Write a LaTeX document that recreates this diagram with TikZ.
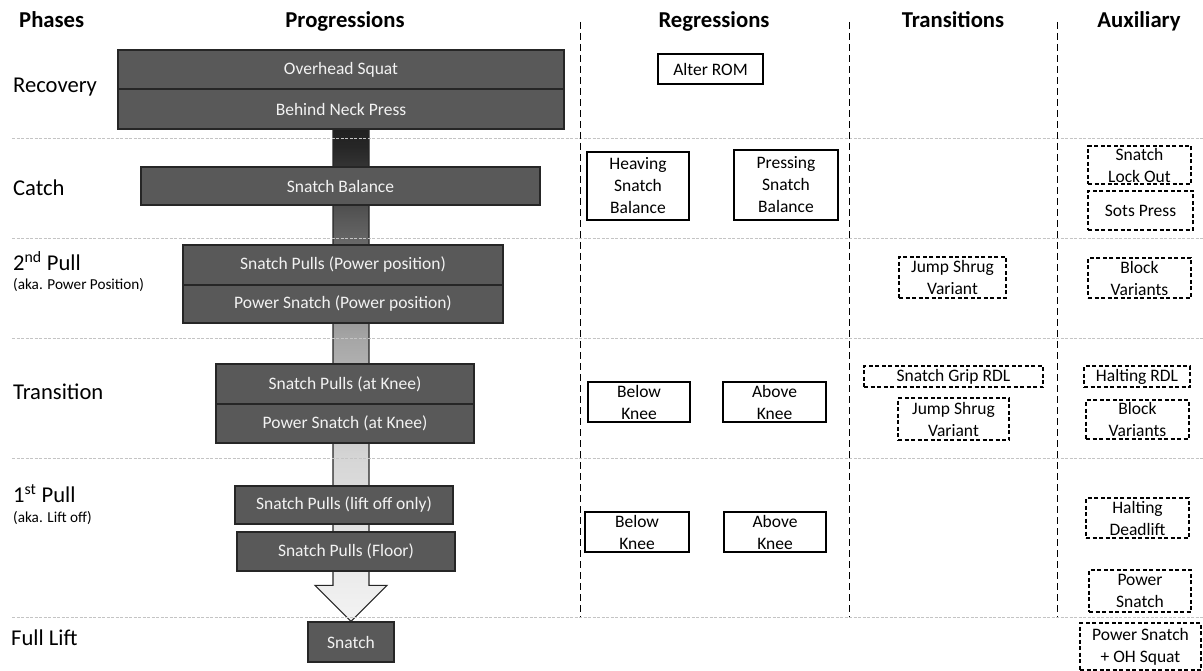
\documentclass[tikz,border=0pt]{standalone}
\usepackage{fontspec}
\setmainfont{Carlito}
\usetikzlibrary{calc,backgrounds}

\definecolor{progfill}{HTML}{595959}
\definecolor{progedge}{HTML}{262626}
\definecolor{progtext}{HTML}{F2F2F2}
\definecolor{sepgray}{HTML}{C4C4C4}
% stops of the grey ramp inside the big downward arrow
\definecolor{sz}{HTML}{202020}
\definecolor{sa}{HTML}{262626}
\definecolor{sb}{HTML}{595959}
\definecolor{sc}{HTML}{A6A6A6}
\definecolor{sd}{HTML}{D6D6D6}
\definecolor{se}{HTML}{F0F0F0}
\definecolor{sf}{HTML}{F2F2F2}
\pgfdeclareverticalshading{stemshade}{100bp}{color(0bp)=(sf); color(25bp)=(sf); color(27bp)=(se); color(41.4bp)=(sd); color(53.5bp)=(sc); color(65.6bp)=(sb); color(73bp)=(sa); color(75bp)=(sz); color(100bp)=(sz)}

\begin{document}
\begin{tikzpicture}[x=1pt,y=-1pt,
  prog/.style={draw=progedge, fill=progfill, text=progtext, line width=1.3pt,
    inner sep=0pt, font=\fontsize{17.5}{20}\selectfont},
  regbox/.style={draw=black, fill=white, line width=1.1pt, inner sep=0pt,
    align=center, font=\fontsize{17.5}{22}\selectfont},
  auxbox/.style={regbox, dash pattern=on 4pt off 2.5pt},
  hdr/.style={font=\fontsize{22.7}{26}\bfseries\selectfont, anchor=base},
  phase/.style={font=\fontsize{22.6}{26}\selectfont, anchor=base west, inner sep=0pt},
  aka/.style={font=\fontsize{15.2}{17}\selectfont, anchor=base west, inner sep=0pt},
  sep/.style={draw=sepgray, line width=0.8pt, dash pattern=on 3pt off 1.5pt},
  colsep/.style={draw=black, line width=0.9pt, dash pattern=on 7pt off 4pt}]

\useasboundingbox (0,0) rectangle (1203,671);

% column headers
\node[hdr, anchor=base west, inner sep=0pt] (hphase) at (19,27.5) {Phases};
\node[hdr] (hprog) at (345,27.5) {Progressions};
\node[hdr] (hreg) at (714,27.5) {Regressions};
\node[hdr] (htrans) at (953,27.5) {Transitions};
\node[hdr] (haux) at (1139,27.5) {Auxiliary};

% phase labels
\node[phase] (lrec) at (13,92.5) {Recovery};
\node[phase] (lcatch) at (13,195.5) {Catch};
\node[phase] (lsecond) at (13,270.5) {2\textsuperscript{nd} Pull};
\node[aka] (lsecondaka) at (13,290) {(aka. Power Position)};
\node[phase] (ltrans) at (13,399.5) {Transition};
\node[phase] (lfirst) at (13,502.5) {1\textsuperscript{st} Pull};
\node[aka] (lfirstaka) at (13,522) {(aka. Lift off)};
\node[phase] (lfull) at (11,645.5) {Full Lift};

% row separators
\foreach \yy in {138,238,338,458,617}
  \draw[sep] (12,\yy) -- (1203,\yy);

% column separators
\foreach \xx in {580.5,849,1057}
  \draw[colsep] (\xx,22) -- (\xx,617);

% progressions
\node[prog, minimum width=446pt, minimum height=39pt] (ohs) at (341,69.5) {Overhead Squat};
\node[prog, minimum width=446pt, minimum height=40pt] (bnp) at (341,109) {Behind Neck Press};
\node[prog, minimum width=399pt, minimum height=38pt] (sbal) at (340.5,186) {Snatch Balance};
\node[prog, minimum width=320pt, minimum height=40pt] (spp) at (343,265) {Snatch Pulls (Power position)};
\node[prog, minimum width=320pt, minimum height=38pt] (psp) at (343,304) {Power Snatch (Power position)};
\node[prog, minimum width=258pt, minimum height=40pt] (spk) at (345,384) {Snatch Pulls (at Knee)};
\node[prog, minimum width=258pt, minimum height=39pt] (psk) at (345,423.5) {Power Snatch (at Knee)};
\node[prog, minimum width=218pt, minimum height=38pt] (splo) at (344,505) {Snatch Pulls (lift off only)};
\node[prog, minimum width=218pt, minimum height=39pt] (spf) at (346,551.5) {Snatch Pulls (Floor)};
\node[prog, minimum width=86pt, minimum height=40pt] (snatch) at (351,642) {Snatch};

% the graded arrow running behind the progressions
\begin{scope}[on background layer]
  \coordinate (atop) at (snatch.north |- bnp.south);
  \coordinate (atip) at (snatch.north);
  \shadedraw[shading=stemshade, draw=progedge, line width=1.2pt, line join=miter]
    ($(atop)+(-18,-3)$) -- ($(atop)+(18,-3)$) -- ($(atip)+(18,-36)$)
    -- ($(atip)+(36,-36)$) -- (atip) -- ($(atip)+(-36,-36)$)
    -- ($(atip)+(-18,-36)$) -- cycle;
\end{scope}

% regressions
\node[regbox, minimum width=105pt, minimum height=30pt] (alter) at (710.5,69) {Alter ROM};
\node[regbox, minimum width=102pt, minimum height=68pt] (heave) at (638,186) {Heaving\\Snatch\\Balance};
\node[regbox, minimum width=104pt, minimum height=70pt] (press) at (786,185) {Pressing\\Snatch\\Balance};
\node[regbox, minimum width=102pt, minimum height=40pt] (bkt) at (639,402) {Below\\Knee};
\node[regbox, minimum width=103pt, minimum height=40pt] (akt) at (774.5,402) {Above\\Knee};
\node[regbox, minimum width=104pt, minimum height=40pt] (bkf) at (637,532) {Below\\Knee};
\node[regbox, minimum width=102pt, minimum height=40pt] (akf) at (775,532) {Above\\Knee};

% transitions
\node[auxbox, minimum width=107pt, minimum height=41pt] (jsva) at (952.5,277.5) {Jump Shrug\\Variant};
\node[auxbox, minimum width=179pt, minimum height=21pt] (sgrdl) at (953.5,376.5) {Snatch Grip RDL};
\node[auxbox, minimum width=111pt, minimum height=42pt] (jsvb) at (953.5,419) {Jump Shrug\\Variant};

% auxiliary
\node[auxbox, minimum width=103pt, minimum height=38pt] (slo) at (1139.5,165) {Snatch\\Lock Out};
\node[auxbox, minimum width=105pt, minimum height=39pt] (sots) at (1140.5,210.5) {Sots Press};
\node[auxbox, minimum width=103pt, minimum height=40pt] (bva) at (1139.5,278) {Block\\Variants};
\node[auxbox, minimum width=106pt, minimum height=21pt] (hrdl) at (1137,376.5) {Halting RDL};
\node[auxbox, minimum width=103pt, minimum height=39pt] (bvb) at (1137.5,419.5) {Block\\Variants};
\node[auxbox, minimum width=103pt, minimum height=40pt] (hdl) at (1137.5,518) {Halting\\Deadlift};
\node[auxbox, minimum width=102pt, minimum height=42pt] (psn) at (1140,591) {Power\\Snatch};
\node[auxbox, minimum width=121pt, minimum height=47pt] (psoh) at (1140.5,646.5) {Power Snatch\\+ OH Squat};
\end{tikzpicture}
\end{document}
